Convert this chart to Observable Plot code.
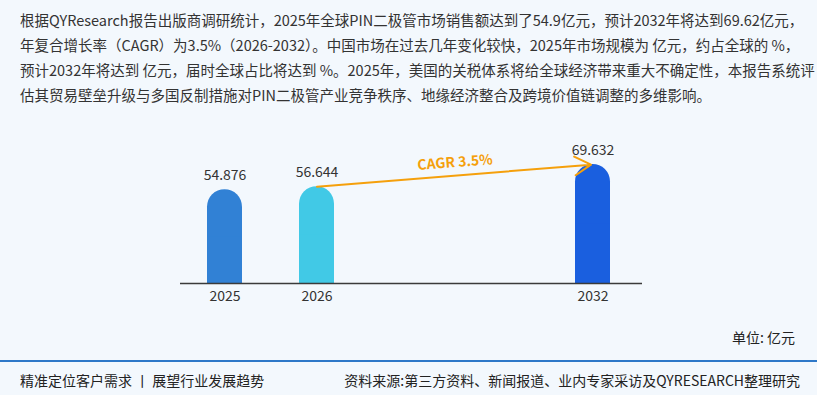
<!DOCTYPE html>
<html>
<head>
<meta charset="utf-8">
<script src="https://cdn.jsdelivr.net/npm/d3@7"></script>
<script src="https://cdn.jsdelivr.net/npm/@observablehq/plot@0.6"></script>
<style>
  html, body { margin: 0; padding: 0; }
  body { width: 817px; height: 395px; background: #f3f8fd; position: relative; overflow: hidden;
         font-family: "Noto Sans CJK SC", "Noto Sans", sans-serif; color: #333; }
  #intro { position: absolute; left: 20px; top: 7px; font-size: 14.5px; line-height: 25px; white-space: nowrap; color: #333; }
  #chart { position: absolute; left: 0; top: 110px; }
  #unit { position: absolute; right: 22px; top: 327px; font-size: 14px; color: #222; }
  #rule { position: absolute; left: 0; right: 0; top: 360px; height: 2px; background: #2e78c8; }
  #footL { position: absolute; left: 20px; top: 370px; font-size: 14px; color: #222; white-space: nowrap; }
  #footR { position: absolute; right: 17px; top: 370px; font-size: 14px; color: #222; white-space: nowrap; }
</style>
</head>
<body>
<div id="intro"></div>
<div id="chart"></div>
<div id="unit"></div>
<div id="rule"></div>
<div id="footL"></div>
<div id="footR"></div>
<script>
// ---- data ----
const introLines = [
  "根据QYResearch报告出版商调研统计，2025年全球PIN二极管市场销售额达到了54.9亿元，预计2032年将达到69.62亿元，",
  "年复合增长率（CAGR）为3.5%（2026-2032）。中国市场在过去几年变化较快，2025年市场规模为 亿元，约占全球的 %，",
  "预计2032年将达到 亿元，届时全球占比将达到 %。2025年，美国的关税体系将给全球经济带来重大不确定性，本报告系统评",
  "估其贸易壁垒升级与多国反制措施对PIN二极管产业竞争秩序、地缘经济整合及跨境价值链调整的多维影响。"
];
const years = ["2025", "2026", "2032"];
const values = [54.876, 56.644, 69.632];
const barColors = ["#3181d5", "#41c9e6", "#1a5fdf"];
const slots = ["2025", "2026", "gap1", "gap2", "2032"];
const cagrLabel = "CAGR 3.5%";
const unitLabel = "单位: 亿元";
const footerLeft = "精准定位客户需求 丨 展望行业发展趋势";
const footerRight = "资料来源:第三方资料、新闻报道、业内专家采访及QYRESEARCH整理研究";

document.getElementById("intro").innerHTML = introLines.join("<br>");
document.getElementById("unit").textContent = unitLabel;
document.getElementById("footL").textContent = footerLeft;
document.getElementById("footR").textContent = footerRight;

const bars = years.map((y, i) => ({year: y, value: values[i], color: barColors[i]}));
const arrowData = [{x1: years[1], y1: values[1], x2: years[2], y2: values[2]}];
const cagrData = [{label: cagrLabel, x: slots[2], y: (values[1] + values[2]) / 2}];

const font = "'Noto Sans CJK SC', 'Noto Sans', sans-serif";

const chart = Plot.plot({
  width: 817,
  height: 200,
  marginLeft: 180,
  marginRight: 175,
  marginTop: 10,
  marginBottom: 27,
  style: {background: "transparent", fontFamily: font, overflow: "visible"},
  x: {type: "band", domain: slots, range: [205.5, 611.5], paddingInner: 0.623, paddingOuter: 0, label: null},
  y: {domain: [0, 70], range: [173, 173 - 70 * 1.709], axis: null},
  marks: [
    Plot.barY(bars, {x: "year", y: "value", fill: "color", rx: 17.5}),
    Plot.barY(bars, {x: "year", y1: 0, y2: d => d.value / 2, fill: "color"}),
    Plot.ruleY([0], {stroke: "#3a3a3a", strokeWidth: 1.3}),
    Plot.axisX({ticks: years, tickSize: 0, tickPadding: 8, fontSize: 14, fill: "#333", label: null}),
    Plot.text(bars, {x: "year", y: "value", text: d => d.value.toFixed(3), dy: -14, fontSize: 14, fill: "#333"}),
    Plot.arrow(arrowData, {x1: "x1", y1: "y1", x2: "x2", y2: "y2", stroke: "#f5a00c", strokeWidth: 2, headLength: 14, insetEnd: 2}),
    Plot.text(cagrData, {x: "x", y: "y", text: "label", dx: 46, dy: -13, rotate: -4.5, fontSize: 14, fontWeight: "bold", fill: "#f5a00c"})
  ]
});
document.getElementById("chart").appendChild(chart);
</script>
</body>
</html>
